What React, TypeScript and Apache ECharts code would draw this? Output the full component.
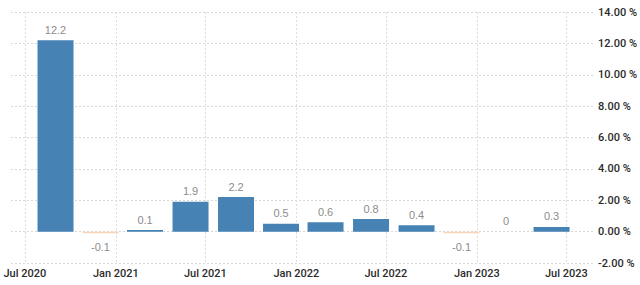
import React, { useEffect, useRef } from "react";
import * as echarts from "echarts";

// Quarterly growth, bars placed at the first day of each quarter's last month
const barMonths = [
  "2020-09", "2020-12", "2021-03", "2021-06", "2021-09", "2021-12",
  "2022-03", "2022-06", "2022-09", "2022-12", "2023-03", "2023-06",
];
const values = [12.2, -0.1, 0.1, 1.9, 2.2, 0.5, 0.6, 0.8, 0.4, -0.1, 0, 0.3];
const tickMonths = ["2020-07", "2021-01", "2021-07", "2022-01", "2022-07", "2023-01", "2023-07"];
const monthNames = ["Jan", "Feb", "Mar", "Apr", "May", "Jun", "Jul", "Aug", "Sep", "Oct", "Nov", "Dec"];
const yTicks = { min: -2, max: 14, interval: 2 };

const toTs = (ym: string, day = 1) => {
  const [y, m] = ym.split("-").map(Number);
  return Date.UTC(y, m - 1, day);
};

const AXIS_FONT = "Roboto";
const LABEL_FONT = "Liberation Sans";

export default function App() {
  const ref = useRef<HTMLDivElement>(null);
  useEffect(() => {
    if (!ref.current) return;
    const chart = echarts.init(ref.current, null, { renderer: "svg" });
    const data = barMonths.map((m, i) => {
      const v = values[i];
      return {
        value: [toTs(m), v],
        itemStyle: { color: v < 0 ? "#f6d6b6" : "#4682b4" },
        label: v < 0 ? { position: "bottom", distance: 8 } : { position: "top", distance: 5 },
      };
    });
    chart.setOption({
      animation: false,
      grid: { left: 11, right: 45, top: 12, bottom: 22, containLabel: false },
      xAxis: {
        type: "value",
        min: toTs("2020-06", 3),
        max: toTs("2023-08", 24),
        axisLine: { show: false },
        axisTick: {
          show: true,
          length: 5,
          customValues: tickMonths.map((m) => toTs(m)),
          lineStyle: { color: "#d8d8d8", type: [2, 2] },
        },
        axisLabel: {
          customValues: tickMonths.map((m) => toTs(m)),
          margin: 5,
          fontFamily: AXIS_FONT,
          fontWeight: 500,
          fontSize: 11,
          color: "#2b2b2b",
          formatter: (v: number) => {
            const d = new Date(v);
            return monthNames[d.getUTCMonth()] + " " + d.getUTCFullYear();
          },
        },
        splitLine: { show: true, lineStyle: { color: "#dedede", type: [2, 2], width: 1 } },
      },
      yAxis: {
        type: "value",
        position: "right",
        min: yTicks.min,
        max: yTicks.max,
        interval: yTicks.interval,
        axisLine: { show: false },
        axisTick: { show: false },
        axisLabel: {
          margin: 5,
          fontFamily: AXIS_FONT,
          fontWeight: 500,
          fontSize: 11,
          color: "#2b2b2b",
          formatter: (v: number) => v.toFixed(2) + " %",
        },
        splitLine: { show: true, lineStyle: { color: "#d8d8d8", type: [2, 2], width: 1 } },
      },
      series: [
        {
          type: "bar",
          barWidth: 36,
          data,
          label: {
            show: true,
            fontFamily: LABEL_FONT,
            fontSize: 11,
            color: "#8c8c8c",
            formatter: (p: any) => String(p.value[1]),
          },
        },
      ],
    });
    return () => chart.dispose();
  }, []);
  return (
    <div
      ref={ref}
      style={{ position: "fixed", left: 0, top: 0, width: 640, height: 285, background: "#fff" }}
    />
  );
}
